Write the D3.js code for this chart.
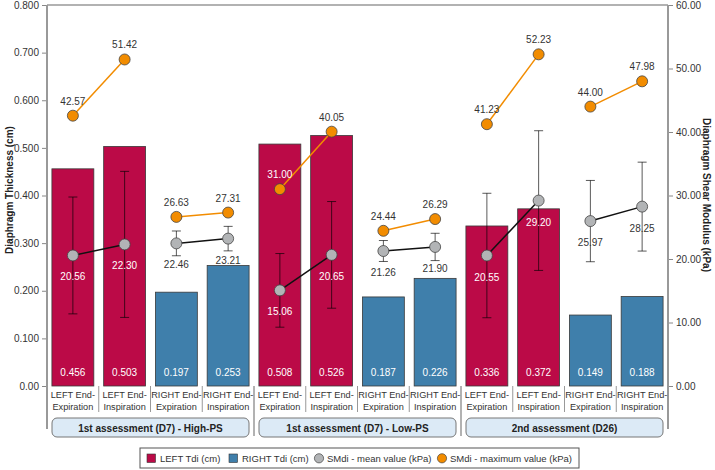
<!DOCTYPE html>
<html>
<head>
<meta charset="utf-8">
<script src="https://cdn.jsdelivr.net/npm/d3@7"></script>
<style>
  body { margin: 0; background: #fff; }
  svg { font-family: "Liberation Sans", Arial, sans-serif; }
</style>
</head>
<body>
<svg id="chart" width="715" height="470"></svg>
<script>
// data
const categories = [
  ["LEFT End-", "Expiration"], ["LEFT End-", "Inspiration"], ["RIGHT End-", "Expiration"], ["RIGHT End-", "Inspiration"],
  ["LEFT End-", "Expiration"], ["LEFT End-", "Inspiration"], ["RIGHT End-", "Expiration"], ["RIGHT End-", "Inspiration"],
  ["LEFT End-", "Expiration"], ["LEFT End-", "Inspiration"], ["RIGHT End-", "Expiration"], ["RIGHT End-", "Inspiration"]
];
const side = ["L","L","R","R","L","L","R","R","L","L","R","R"];
const groups = ["1st assessment (D7) - High-PS", "1st assessment (D7) - Low-PS", "2nd assessment (D26)"];
const tdi = [0.456, 0.503, 0.197, 0.253, 0.508, 0.526, 0.187, 0.226, 0.336, 0.372, 0.149, 0.188];
const smMean = [20.56, 22.30, 22.46, 23.21, 15.06, 20.65, 21.26, 21.90, 20.55, 29.20, 25.97, 28.25];
const smSd = [9.2, 11.5, 1.95, 1.93, 5.8, 8.4, 1.65, 2.15, 9.8, 11.0, 6.4, 7.0];
const smMax = [42.57, 51.42, 26.63, 27.31, 31.00, 40.05, 24.44, 26.29, 41.23, 52.23, 44.00, 47.98];
const leftTicks = [0, 0.1, 0.2, 0.3, 0.4, 0.5, 0.6, 0.7, 0.8];
const rightTicks = [0, 10, 20, 30, 40, 50, 60];

const red = "#bb0a47", blue = "#3f7fab", gray = "#b2b4b6", orange = "#f28c00";
const txt = "#333";
const fs = 9.5;

const svg = d3.select("#chart");
const x0 = 47, x1 = 668, yTop = 5, yBot = 386;

const x = d3.scaleBand().domain(d3.range(categories.length)).range([x0, x1]).paddingInner(0.19).paddingOuter(0.095);
const yL = d3.scaleLinear().domain([0, 0.8]).range([yBot, yTop]);
const yR = d3.scaleLinear().domain([0, 60]).range([yBot, yTop]);
const step = x.step();
const cx = i => x(i) + x.bandwidth() / 2;

// top frame line
svg.append("line").attr("x1", x0).attr("x2", x1).attr("y1", yTop).attr("y2", yTop)
  .attr("stroke", "#999").attr("stroke-width", 1.5);

// bars
svg.append("g").selectAll("rect").data(tdi).join("rect")
  .attr("x", (d, i) => x(i)).attr("width", x.bandwidth())
  .attr("y", d => yL(d)).attr("height", d => yBot - yL(d))
  .attr("fill", (d, i) => side[i] === "L" ? red : blue)
  .attr("stroke", "#3a3a3a").attr("stroke-width", 0.8);

svg.append("g").selectAll("text").data(tdi).join("text")
  .attr("x", (d, i) => cx(i)).attr("y", 372)
  .attr("text-anchor", "middle").attr("dominant-baseline", "central")
  .attr("font-size", 10).attr("fill", "#fff")
  .text(d => d.toFixed(3));

// error bars
const eb = svg.append("g").attr("stroke", "#000").attr("stroke-opacity", 0.65).attr("stroke-width", 1);
smMean.forEach((m, i) => {
  const top = yR(m + smSd[i]), bot = yR(m - smSd[i]);
  eb.append("line").attr("x1", cx(i)).attr("x2", cx(i)).attr("y1", top).attr("y2", bot);
  eb.append("line").attr("x1", cx(i) - 4.5).attr("x2", cx(i) + 4.5).attr("y1", top).attr("y2", top);
  eb.append("line").attr("x1", cx(i) - 4.5).attr("x2", cx(i) + 4.5).attr("y1", bot).attr("y2", bot);
});

// connecting lines per pair
d3.range(0, 12, 2).forEach(p => {
  svg.append("line").attr("x1", cx(p)).attr("x2", cx(p + 1))
    .attr("y1", yR(smMax[p])).attr("y2", yR(smMax[p + 1]))
    .attr("stroke", orange).attr("stroke-width", 1.5);
  svg.append("line").attr("x1", cx(p)).attr("x2", cx(p + 1))
    .attr("y1", yR(smMean[p])).attr("y2", yR(smMean[p + 1]))
    .attr("stroke", "#111").attr("stroke-width", 1.5);
});

svg.append("g").selectAll("circle").data(smMean).join("circle")
  .attr("cx", (d, i) => cx(i)).attr("cy", d => yR(d)).attr("r", 5.5)
  .attr("fill", gray).attr("stroke", "#444").attr("stroke-width", 0.8);
svg.append("g").selectAll("circle").data(smMax).join("circle")
  .attr("cx", (d, i) => cx(i)).attr("cy", d => yR(d)).attr("r", 5.5)
  .attr("fill", orange).attr("stroke", "#444").attr("stroke-width", 0.8);

const onBar = (i, y) => side[i] === "L" && y > yL(tdi[i]);
svg.append("g").selectAll("text").data(smMean).join("text")
  .attr("x", (d, i) => cx(i)).attr("y", d => yR(d) + 21.5)
  .attr("text-anchor", "middle").attr("dominant-baseline", "central")
  .attr("font-size", 10)
  .attr("fill", (d, i) => onBar(i, yR(d) + 21.5) ? "#fff" : txt)
  .text(d => d.toFixed(2));
svg.append("g").selectAll("text").data(smMax).join("text")
  .attr("x", (d, i) => cx(i)).attr("y", d => yR(d) - 14.5)
  .attr("text-anchor", "middle").attr("dominant-baseline", "central")
  .attr("font-size", 10)
  .attr("fill", (d, i) => onBar(i, yR(d) - 14.5) ? "#fff" : txt)
  .text(d => d.toFixed(2));

// left axis
const gL = svg.append("g").attr("transform", `translate(${x0},0)`)
  .call(d3.axisLeft(yL).tickValues(leftTicks).tickSize(5).tickSizeOuter(0)
    .tickFormat(d => d === 0 ? "0.00" : d3.format(".3f")(d)));
gL.select(".domain").remove();
gL.selectAll(".tick line").attr("stroke", "#888");
gL.selectAll(".tick text").attr("font-size", 10).attr("fill", txt).attr("font-family", null).attr("x", -8);

const gR = svg.append("g").attr("transform", `translate(${x1},0)`)
  .call(d3.axisRight(yR).tickValues(rightTicks).tickSize(5).tickSizeOuter(0)
    .tickFormat(d3.format(".2f")));
gR.select(".domain").remove();
gR.selectAll(".tick line").attr("stroke", "#888");
gR.selectAll(".tick text").attr("font-size", 10).attr("fill", txt).attr("font-family", null).attr("x", 8);

// axis lines extended below the plot
[x0, x1].forEach(xx => svg.append("line").attr("x1", xx).attr("x2", xx).attr("y1", yTop).attr("y2", 429)
  .attr("stroke", "#999").attr("stroke-width", 2));

// category separators
d3.range(1, 12).forEach(i => {
  const xx = x0 + i * step;
  const long = i % 4 === 0;
  svg.append("line").attr("x1", xx).attr("x2", xx).attr("y1", yBot).attr("y2", long ? 436 : 412)
    .attr("stroke", "#999").attr("stroke-width", long ? 1.5 : 1);
});

// category labels
const cl = svg.append("g").selectAll("text").data(categories).join("text")
  .attr("text-anchor", "middle").attr("font-size", 9.2).attr("fill", txt);
cl.append("tspan").attr("x", (d, i) => cx(i)).attr("y", 398).text(d => d[0]);
cl.append("tspan").attr("x", (d, i) => cx(i)).attr("y", 410).text(d => d[1]);

// group boxes
groups.forEach((g, k) => {
  const gx = x0 + k * 4 * step;
  svg.append("rect").attr("x", gx + 5).attr("y", 418).attr("width", 4 * step - 10).attr("height", 19)
    .attr("rx", 5).attr("fill", "#dceaf6").attr("stroke", "#777").attr("stroke-width", 1);
  svg.append("text").attr("x", gx + 2 * step).attr("y", 428)
    .attr("text-anchor", "middle").attr("dominant-baseline", "central")
    .attr("font-size", 10).attr("font-weight", "bold").attr("fill", "#222").text(g);
});

// axis titles
svg.append("text").attr("transform", "translate(9,190) rotate(-90)")
  .attr("text-anchor", "middle").attr("dominant-baseline", "central")
  .attr("font-size", 10).attr("font-weight", "bold").attr("fill", "#222")
  .text("Diaphragm Thickness (cm)");
svg.append("text").attr("transform", "translate(706,195) rotate(90)")
  .attr("text-anchor", "middle").attr("dominant-baseline", "central")
  .attr("font-size", 10).attr("font-weight", "bold").attr("fill", "#222")
  .text("Diaphragm Shear Modulus (kPa)");

// legend
const lg = svg.append("g");
lg.append("rect").attr("x", 140).attr("y", 448).attr("width", 439).attr("height", 20)
  .attr("fill", "#fff").attr("stroke", "#555").attr("stroke-width", 1);
const items = [
  { label: "LEFT Tdi (cm)", color: red, shape: "rect", x: 147 },
  { label: "RIGHT Tdi (cm)", color: blue, shape: "rect", x: 229 },
  { label: "SMdi - mean value (kPa)", color: gray, shape: "circle", x: 314 },
  { label: "SMdi - maximum value (kPa)", color: orange, shape: "circle", x: 437 }
];
items.forEach(it => {
  if (it.shape === "rect") {
    lg.append("rect").attr("x", it.x).attr("y", 454).attr("width", 8.5).attr("height", 8.5)
      .attr("fill", it.color).attr("stroke", "#333").attr("stroke-width", 0.6);
  } else {
    lg.append("circle").attr("cx", it.x + 5).attr("cy", 458.3).attr("r", 4.6)
      .attr("fill", it.color).attr("stroke", "#444").attr("stroke-width", 0.7);
  }
  lg.append("text").attr("x", it.x + 13).attr("y", 458.5).attr("dominant-baseline", "central")
    .attr("font-size", fs).attr("fill", txt).text(it.label);
});
</script>
</body>
</html>
